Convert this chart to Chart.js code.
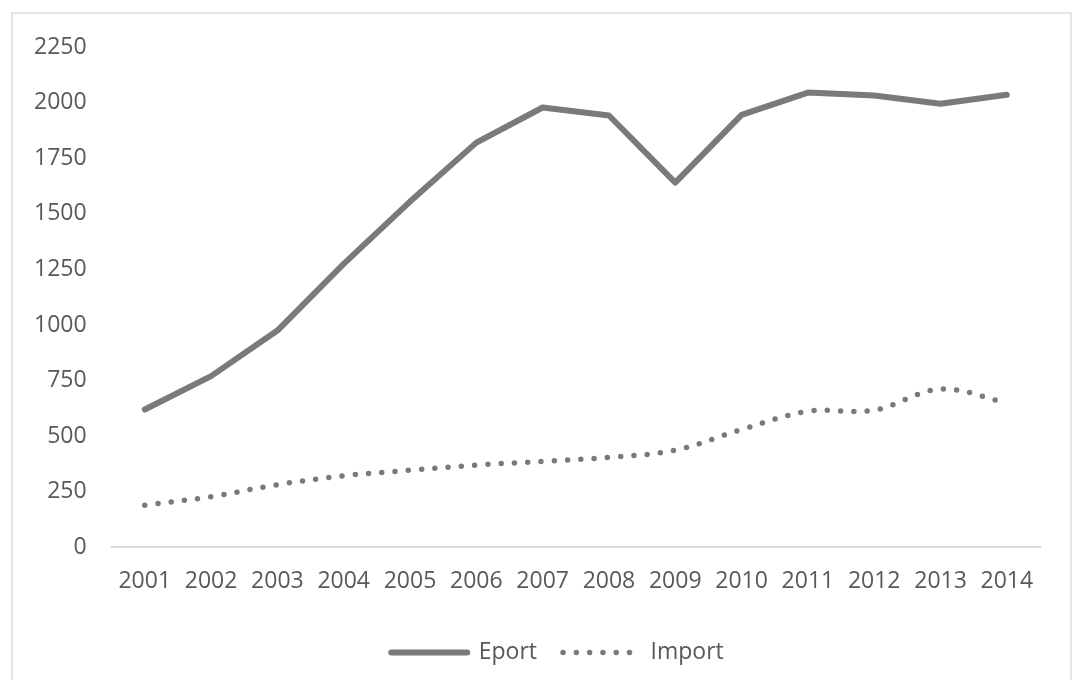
<!DOCTYPE html>
<html>
<head>
<meta charset="utf-8">
<script src="https://cdn.jsdelivr.net/npm/chart.js@4.4.1/dist/chart.umd.min.js"></script>
<style>
  html, body { margin: 0; padding: 0; background: #fff; }
  #wrap { position: relative; width: 1074px; height: 680px; }
  #frame { position: absolute; left: 11px; top: 12px; width: 1061px; height: 680px;
           border: 2px solid #e4e4e4; border-bottom: none; box-sizing: border-box; }
  canvas { position: absolute; left: 0; top: 0; }
</style>
</head>
<body>
<div id="wrap">
  <div id="frame"></div>
  <canvas id="line" width="1074" height="680"></canvas>
</div>
<script>
let years = ['2001', '2002', '2003', '2004', '2005', '2006', '2007', '2008', '2009', '2010', '2011', '2012', '2013', '2014']
let exportValues = [620, 770, 975, 1275, 1555, 1820, 1978, 1942, 1640, 1945, 2045, 2032, 1995, 2035]
let importValues = [190, 228, 282, 322, 347, 370, 387, 405, 437, 530, 612, 617, 712, 650]
let yTicks = [0, 250, 500, 750, 1000, 1250, 1500, 1750, 2000, 2250]

let gray = '#7a7a7a'
let textGray = '#595959'
let font = { family: 'Open Sans', size: 23 }

// legend sits a bit right of centre in the original
let shiftLegend = {
  id: 'shiftLegend',
  afterLayout: function (chart) {
    chart.legend.left += 33
    chart.legend.right += 33
  }
}

let chart1 = document.getElementById('line')
let tradeChart = new Chart(chart1, {
  type: 'line',
  plugins: [shiftLegend],
  data: {
    labels: years,
    datasets: [{
      label: 'Eport',
      data: exportValues,
      borderColor: gray,
      backgroundColor: gray,
      borderWidth: 6,
      borderCapStyle: 'round',
      borderJoinStyle: 'round',
      pointRadius: 0,
      tension: 0
    }, {
      label: 'Import',
      data: importValues,
      borderColor: gray,
      backgroundColor: gray,
      borderWidth: 5.5,
      borderCapStyle: 'round',
      borderDash: [0, 13.3],
      pointRadius: 0,
      tension: 0.35
    }]
  },
  options: {
    responsive: false,
    animation: false,
    layout: { padding: { left: 9, right: 34, top: 47, bottom: 6 } },
    plugins: {
      tooltip: { enabled: false },
      legend: {
        position: 'bottom',
        labels: {
          color: textGray,
          font: font,
          usePointStyle: true,
          pointStyleWidth: 76,
          padding: 26,
          generateLabels: function (chart) {
            return chart.data.datasets.map(function (ds, i) {
              return {
                text: ds.label,
                datasetIndex: i,
                fillStyle: ds.borderColor,
                strokeStyle: ds.borderColor,
                fontColor: textGray,
                lineWidth: ds.borderWidth,
                lineDash: ds.borderDash || [],
                lineCap: 'round',
                pointStyle: 'line',
                hidden: false
              }
            })
          }
        }
      }
    },
    scales: {
      x: {
        offset: true,
        grid: { display: false, drawTicks: false },
        border: { display: true, color: '#d9d9d9', width: 2 },
        ticks: { color: textGray, font: font, padding: 20, maxRotation: 0 }
      },
      y: {
        min: 0,
        max: 2250,
        afterBuildTicks: function (axis) {
          axis.ticks = yTicks.map(function (v) { return { value: v } })
        },
        grid: { display: false, drawTicks: false },
        border: { display: false },
        ticks: {
          color: textGray,
          font: font,
          padding: 25,
          callback: function (v) { return String(v) }
        }
      }
    }
  }
});
</script>
</body>
</html>
